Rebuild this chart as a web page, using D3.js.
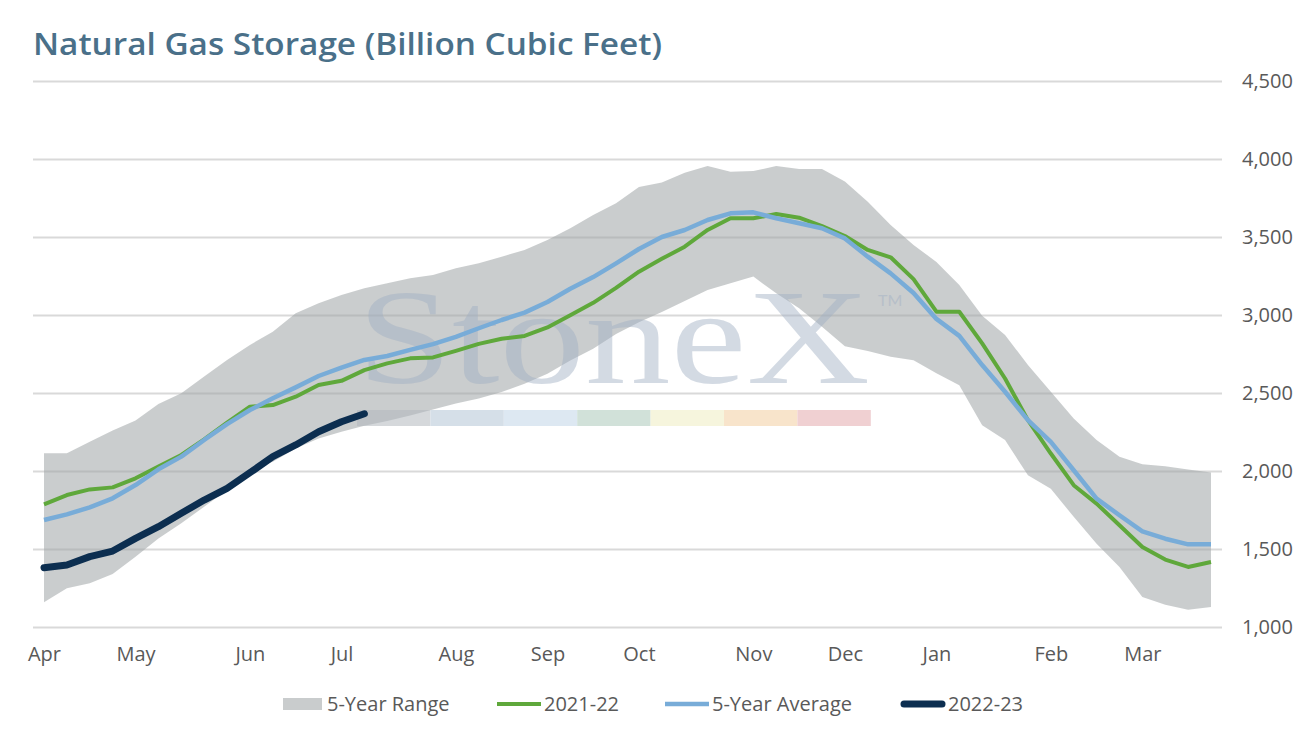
<html>
<head>
<script src="https://cdn.jsdelivr.net/npm/d3@7"></script>
<style type="text/css">
body { margin: 0; background: #fff; }
text { font-family: "Open Sans", Lato, sans-serif; }
.title { fill: #4a7089; font-size: 30px; font-weight: 600; }
.tick text { fill: #595959; font-size: 20px; }
.legend text { fill: #595959; font-size: 20px; }
.wm text { font-family: "Liberation Serif", "DejaVu Serif", serif; }
</style>
</head>
<body>
<script type="text/javascript">
var width = 1300,
    height = 730;

// weekly points, Apr -> Mar
var monthLabels = ['Apr', 'May', 'Jun', 'Jul', 'Aug', 'Sep', 'Oct', 'Nov', 'Dec', 'Jan', 'Feb', 'Mar'];
var monthWeek = [0, 4, 9, 13, 18, 22, 26, 31, 35, 39, 44, 48];
var yTicks = [1000, 1500, 2000, 2500, 3000, 3500, 4000, 4500];

var rangeHigh = [2113, 2113, 2188, 2259, 2323, 2429, 2498, 2605, 2712, 2808, 2893, 3011, 3075, 3128, 3171, 3203,
    3235, 3256, 3299, 3331, 3374, 3417, 3481, 3556, 3641, 3716, 3820, 3850, 3912, 3955, 3919, 3923,
    3955, 3936, 3936, 3855, 3726, 3577, 3449, 3340, 3193, 2995, 2872, 2679, 2508, 2337, 2198, 2091,
    2044, 2031, 2009, 1990];
var rangeLow = [1158, 1248, 1280, 1340, 1451, 1568, 1665, 1771, 1878, 2006, 2060, 2145, 2209, 2252, 2290, 2320,
    2355, 2394, 2432, 2464, 2506, 2560, 2623, 2709, 2783, 2879, 2953, 3020, 3090, 3160, 3203, 3246,
    3139, 3043, 2925, 2800, 2770, 2733, 2710, 2626, 2550, 2294, 2198, 1973, 1887, 1706, 1534, 1385,
    1192, 1143, 1111, 1128];
var avg5 = [1686, 1722, 1767, 1825, 1910, 2011, 2092, 2199, 2301, 2391, 2466, 2536, 2609, 2662, 2712, 2737,
    2776, 2813, 2860, 2915, 2968, 3015, 3083, 3168, 3243, 3331, 3423, 3500, 3545, 3609, 3652, 3658,
    3620, 3588, 3556, 3491, 3374, 3267, 3141, 2975, 2866, 2679, 2508, 2326, 2187, 2005, 1823, 1716,
    1613, 1566, 1530, 1530];
var y2021 = [1786, 1846, 1882, 1895, 1953, 2028, 2103, 2203, 2310, 2412, 2423, 2476, 2551, 2578, 2647, 2690,
    2722, 2728, 2770, 2815, 2848, 2866, 2920, 2998, 3078, 3174, 3278, 3360, 3438, 3545, 3620, 3620,
    3647, 3624, 3570, 3506, 3417, 3370, 3230, 3021, 3021, 2818, 2593, 2326, 2112, 1909, 1791, 1652,
    1513, 1432, 1385, 1417];
var y2022 = [1380, 1397, 1451, 1487, 1568, 1643, 1729, 1814, 1889, 1989, 2092, 2167, 2252, 2316, 2367];

var x = d3.scaleLinear().domain([0, 51]).range([44, 1211]);
var y = d3.scaleLinear().domain([1000, 4500]).range([627, 81]);

var svg = d3.select('body')
    .append('svg')
        .attr('width', width)
        .attr('height', height);

svg.append('text')
    .attr('class', 'title')
    .attr('x', 33)
    .attr('y', 55)
    .attr('textLength', 629)
    .attr('lengthAdjust', 'spacingAndGlyphs')
    .text('Natural Gas Storage (Billion Cubic Feet)');

// grid
svg.append('g')
    .attr('transform', 'translate(1222,0)')
    .call(d3.axisLeft(y).tickValues(yTicks).tickSize(1189).tickFormat(''))
    .call(function(g){
        g.select('.domain').remove();
        g.selectAll('line').attr('stroke', '#d9d9d9').attr('stroke-width', 2);
    });

// y labels
svg.append('g')
    .attr('transform', 'translate(1242,0)')
    .call(d3.axisRight(y).tickValues(yTicks).tickSize(0).tickPadding(0).tickFormat(d3.format(',')))
    .call(function(g){
        g.select('.domain').remove();
        g.selectAll('text').attr('font-family', null);
    });

// x labels
svg.append('g')
    .attr('transform', 'translate(0,627)')
    .call(d3.axisBottom(x).tickValues(monthWeek).tickSize(0).tickPadding(20)
        .tickFormat(function(d, i){ return monthLabels[i]; }))
    .call(function(g){
        g.select('.domain').remove();
        g.selectAll('text').attr('font-family', null);
    });

// 5-year range band
var band = d3.area()
    .x(function(d, i){ return x(i); })
    .y0(function(d, i){ return y(rangeLow[i]); })
    .y1(function(d){ return y(d); });

svg.append('path')
    .datum(rangeHigh)
    .attr('d', band)
    .attr('fill', 'rgb(158,164,166)')
    .attr('fill-opacity', 0.55);

// watermark
var wm = svg.append('g').attr('class', 'wm').attr('opacity', 0.45);
wm.append('text')
    .attr('x', 357)
    .attr('y', 383)
    .attr('font-size', 136)
    .attr('textLength', 513)
    .attr('lengthAdjust', 'spacingAndGlyphs')
    .attr('fill', 'rgb(160,175,195)')
    .text('StoneX');
wm.append('text')
    .attr('x', 878)
    .attr('y', 306)
    .attr('font-size', 16)
    .attr('fill', 'rgb(160,175,195)')
    .style('font-family', 'Lato, sans-serif')
    .text('TM');

var barColors = ['#b3b9bf', '#b3c5d6', '#c3d6e8', '#acc9bb', '#f0eec2', '#f3cea1', '#e4abaf'];
svg.append('g').attr('opacity', 0.55)
    .selectAll('rect')
    .data(barColors)
    .enter()
    .append('rect')
        .attr('x', function(d, i){ return 357 + i * 73.4; })
        .attr('y', 410)
        .attr('width', 73.4)
        .attr('height', 16)
        .attr('fill', function(d){ return d; });

var line = d3.line()
    .x(function(d, i){ return x(i); })
    .y(function(d){ return y(d); });

svg.append('path')
    .datum(y2021)
    .attr('d', line)
    .attr('fill', 'none')
    .attr('stroke', '#5fa83b')
    .attr('stroke-width', 4)
    .attr('stroke-linejoin', 'round');

svg.append('path')
    .datum(avg5)
    .attr('d', line)
    .attr('fill', 'none')
    .attr('stroke', '#78acd8')
    .attr('stroke-width', 4.5)
    .attr('stroke-linejoin', 'round');

svg.append('path')
    .datum(y2022)
    .attr('d', line)
    .attr('fill', 'none')
    .attr('stroke', '#0c2e50')
    .attr('stroke-width', 7)
    .attr('stroke-linejoin', 'round')
    .attr('stroke-linecap', 'round');

// legend
var legend = [
    {name: '5-Year Range', x: 283, type: 'rect', color: 'rgb(201,204,205)', w: 0},
    {name: '2021-22', x: 497, type: 'line', color: '#5fa83b', w: 4},
    {name: '5-Year Average', x: 665, type: 'line', color: '#78acd8', w: 4.5},
    {name: '2022-23', x: 901, type: 'line', color: '#0c2e50', w: 7}
];

var lg = svg.append('g').attr('class', 'legend')
    .selectAll('g')
    .data(legend)
    .enter()
    .append('g')
        .attr('transform', function(d){ return 'translate(' + d.x + ',704)'; });

lg.filter(function(d){ return d.type == 'rect'; })
    .append('rect')
        .attr('x', 0).attr('y', -6).attr('width', 39).attr('height', 12)
        .attr('fill', function(d){ return d.color; });

lg.filter(function(d){ return d.type == 'line'; })
    .append('line')
        .attr('x1', function(d){ return d.w > 5 ? 3 : 0; })
        .attr('x2', function(d){ return d.w > 5 ? 41 : 44; })
        .attr('stroke', function(d){ return d.color; })
        .attr('stroke-width', function(d){ return d.w; })
        .attr('stroke-linecap', function(d){ return d.w > 5 ? 'round' : 'butt'; });

lg.append('text')
    .attr('x', function(d){ return d.type == 'rect' ? 44 : 47; })
    .attr('y', 7)
    .text(function(d){ return d.name; });
</script>
</body>
</html>
